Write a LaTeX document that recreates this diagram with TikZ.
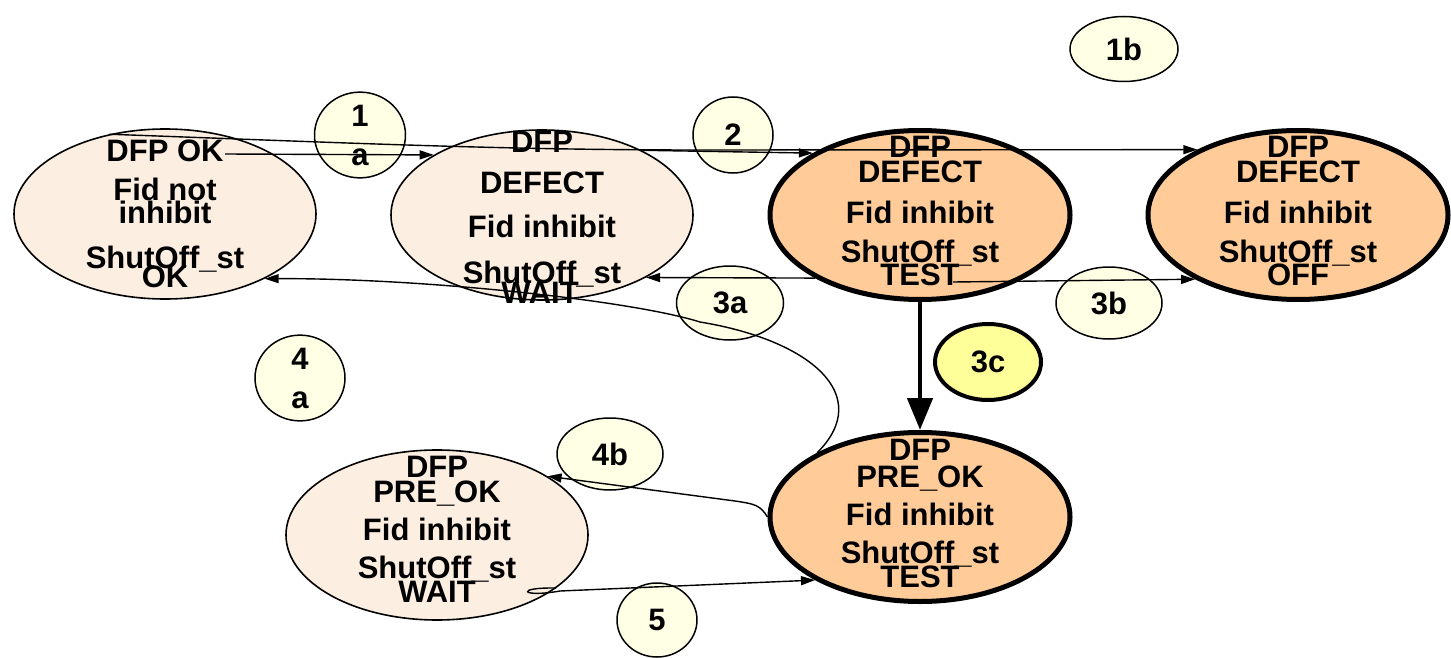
\documentclass[tikz,border=0pt]{standalone}
\usepackage{fontspec}
\setmainfont{Liberation Sans}
\usetikzlibrary{shapes.geometric,arrows.meta}
\definecolor{pale}{HTML}{FDEEE2}
\definecolor{orng}{HTML}{FFCC99}
\definecolor{lbl}{HTML}{FFFFE5}
\definecolor{lbly}{HTML}{FFFF99}
\newcommand\dfont{\fontsize{15.5}{19.5}\selectfont\bfseries}
\begin{document}
\begin{tikzpicture}[x=0.5pt,y=-0.5pt,
  big/.style={ellipse, draw, inner sep=0pt},
  pl/.style={big, fill=pale, line width=0.8pt, minimum width=151pt, minimum height=85pt},
  hot/.style={big, fill=orng, line width=2.5pt, minimum width=150pt, minimum height=84.5pt},
  tag/.style={ellipse, draw, fill=lbl, line width=0.75pt, inner sep=0pt, font=\dfont, align=center},
  txt/.style={anchor=base, font=\dfont, inner sep=0pt},
  conn/.style={line width=0.7pt, -{Triangle[length=7pt,width=4.5pt]}},
  thick arrow/.style={line width=2.3pt, -{Triangle[length=16pt,width=12.5pt]}}
]
\useasboundingbox (0,0) rectangle (1451,658);

% state ellipses
\node[pl]  (e1) at (165,214) {};
\node[pl]  (e2) at (542,215) {};
\node[hot] (e3) at (920,215) {};
\node[hot] (e4) at (1298,215) {};
\node[hot] (e5) at (920,517) {};
\node[pl]  (e6) at (437,535) {};

% transition labels
\node[tag, minimum width=45.5pt, minimum height=38pt] (t1a) at (360,135) {1\\a};
\node[tag, minimum width=54pt, minimum height=32.5pt] (t1b) at (1124,49) {1b};
\node[tag, minimum width=40pt, minimum height=38pt] (t2) at (733,135) {2};
\node[tag, minimum width=53.5pt, minimum height=37pt] (t3a) at (730,303) {3a};
\node[tag, minimum width=53pt, minimum height=36pt] (t3b) at (1109,303) {3b};
\node[tag, fill=lbly, line width=2pt, minimum width=53pt, minimum height=38pt] (t3c) at (988,362) {3c};
\node[tag, minimum width=45pt, minimum height=34.5pt] (t4a) at (300,378) {4\\a};
\node[tag, minimum width=53pt, minimum height=36pt] (t4b) at (610,454) {4b};
\node[tag, minimum width=40pt, minimum height=37pt] (t5) at (657,620) {5};

% free ends inside texts
\coordinate (s1a) at (225,154);
\coordinate (s3b) at (953,282);

% connectors
\draw[conn] (e1.125.6) .. controls (350,143) and (500,150) .. (700,150) -- (e4.147);
\draw[conn] (s1a) -- (e2.151.2);
\draw[conn] (e2.33.6) -- (e3.150);
\draw[conn] (e3.211.8) -- (e2.329.4);
\draw[conn] (s3b) -- (e4.212);
\draw[thick arrow] (e3.south) -- (e5.north);
\draw[conn] (e5.148.6) .. controls (875,395) and (810,340) .. (700,322)
            .. controls (630,300) and (420,278) .. (e1.-33);
\draw[conn] (e5.west) .. controls (760,505) and (755,504) .. (735,501) -- (e6.28);
\draw[conn] (e6.-24.4) .. controls (515,587) and (520,598) .. (560,591) -- (e5.211);

% texts of the states
\node[txt] (e1a) at (165,162) {DFP OK};
\node[txt] (e1b) at (165,200) {Fid not};
\node[txt] (e1c) at (165,223) {inhibit};
\node[txt] (e1d) at (165,268) {ShutOff\_st};
\node[txt] (e1e) at (165,287) {OK};

\node[txt] (e2a) at (542,153) {DFP};
\node[txt] (e2b) at (542,193) {DEFECT};
\node[txt] (e2c) at (542,237) {Fid inhibit};
\node[txt] (e2d) at (542,283) {ShutOff\_st};
\node[txt] (e2e) at (540,303) {WAIT};

\node[txt] (e3a) at (920,157) {DFP};
\node[txt] (e3b) at (920,183) {DEFECT};
\node[txt] (e3c) at (920,223) {Fid inhibit};
\node[txt] (e3d) at (920,262) {ShutOff\_st};
\node[txt] (e3e) at (920,285) {TEST};

\node[txt] (e4a) at (1298,157) {DFP};
\node[txt] (e4b) at (1298,183) {DEFECT};
\node[txt] (e4c) at (1298,223) {Fid inhibit};
\node[txt] (e4d) at (1298,262) {ShutOff\_st};
\node[txt] (e4e) at (1298,285) {OFF};

\node[txt] (e5a) at (920,460) {DFP};
\node[txt] (e5b) at (920,487) {PRE\_OK};
\node[txt] (e5c) at (920,525) {Fid inhibit};
\node[txt] (e5d) at (920,563) {ShutOff\_st};
\node[txt] (e5e) at (920,587) {TEST};

\node[txt] (e6a) at (437,477) {DFP};
\node[txt] (e6b) at (437,502) {PRE\_OK};
\node[txt] (e6c) at (437,540) {Fid inhibit};
\node[txt] (e6d) at (437,578) {ShutOff\_st};
\node[txt] (e6e) at (437,602) {WAIT};
\end{tikzpicture}
\end{document}
